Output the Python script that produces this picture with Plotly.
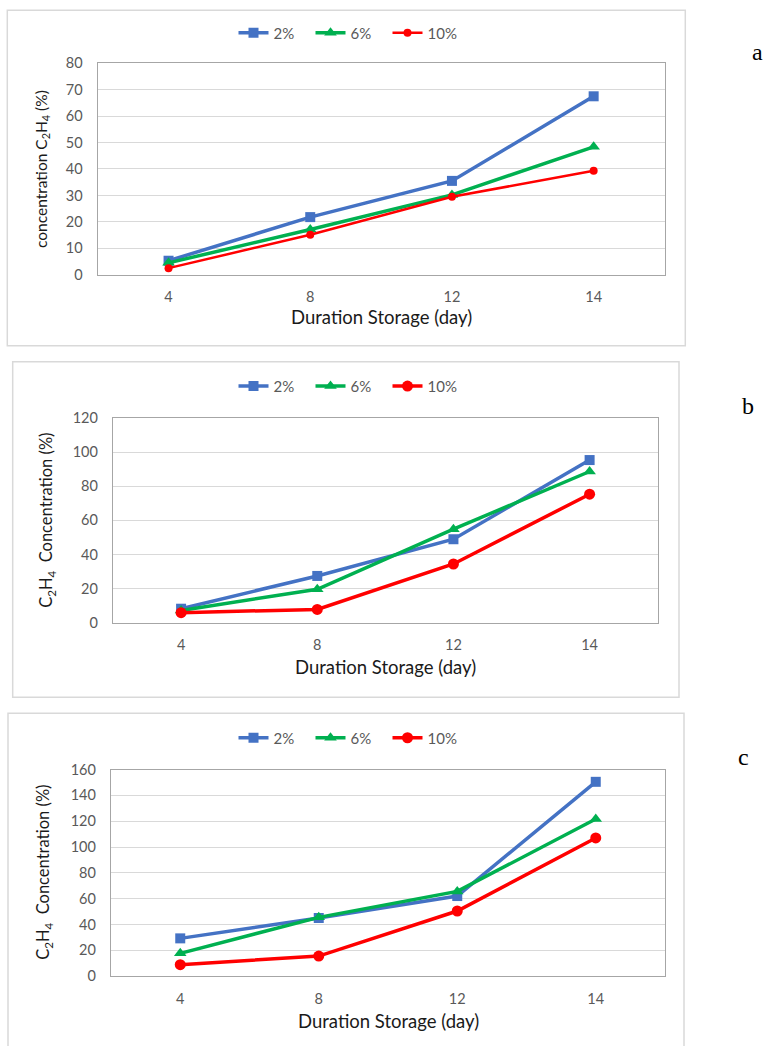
import plotly.graph_objects as go

W, H = 765, 1046

# ---------------- data ----------------
days = ["4", "8", "12", "14"]
series_names = ["2%", "6%", "10%"]

a_2 = [5.3, 21.8, 35.5, 67.5]
a_6 = [4.5, 17.1, 30.2, 48.4]
a_10 = [2.5, 15.1, 29.5, 39.3]

b_2 = [8.2, 27.4, 48.9, 95.3]
b_6 = [7.2, 19.6, 54.8, 88.6]
b_10 = [5.9, 7.8, 34.4, 75.3]

c_2 = [29.2, 45.0, 62.0, 150.5]
c_6 = [17.6, 45.5, 65.6, 121.7]
c_10 = [8.8, 15.5, 50.4, 107.0]

y_ranges = [[0, 80], [0, 120], [0, 160]]
y_dticks = [10, 20, 20]
y_titles = [
    "concentration C<sub>2</sub>H<sub>4</sub> (%)",
    "C<sub>2</sub>H<sub>4</sub>\u00a0 Concentration (%)",
    "C<sub>2</sub>H<sub>4</sub>\u00a0 Concentration (%)",
]
x_title = "Duration Storage (day)"
panel_labels = ["a", "b", "c"]

# ---------------- styles / layout geometry (pixels) ----------------
colors = ["#4472C4", "#00B050", "#FF0000"]
symbols = ["square", "triangle-up", "circle"]

# plot areas: (left, right, top, bottom)
plot_px = [(97.7, 664.5, 62.3, 274.0), (113.0, 657.7, 417.3, 622.3), (111.0, 665.0, 769.3, 976.0)]
# outer boxes
box_px = [(7.3, 685.3, 9.3, 345.0), (12.7, 679.0, 361.0, 697.0), (8.0, 684.0, 713.0, 1060.0)]
legend_y_px = [32.0, 385.7, 737.7]
xtitle_y_px = [316.0, 666.7, 1021.0]
ytitle_x_px = [42.0, 46.5, 44.0]
ytitle_sizes = [15.5, 16.5, 16.5]
label_px = [(757.0, 51.0), (748.0, 405.0), (743.0, 757.0)]

red_width = [2.5, 3.5, 3.5]
red_size = [8, 11, 11]

# the rendered page shows the figure offset by 8 px vertically and squeezed to 1030 px
Y_OFF, Y_SPAN = 8.0, 1030.0


def px_x(v):
    return v / W


def px_y(v):
    return 1 - (v - Y_OFF) / Y_SPAN


panels = [
    [a_2, a_6, a_10],
    [b_2, b_6, b_10],
    [c_2, c_6, c_10],
]

fig = go.Figure()
font_main = "Lato, 'Open Sans', sans-serif"

for p, vals in enumerate(panels):
    xa = "x" if p == 0 else f"x{p+1}"
    ya = "y" if p == 0 else f"y{p+1}"
    leg = "legend" if p == 0 else f"legend{p+1}"
    for s, name in enumerate(series_names):
        lw = 3.5 if s < 2 else red_width[p]
        ms = 10 if s == 0 else (11 if s == 1 else red_size[p])
        fig.add_trace(go.Scatter(
            x=days, y=vals[s], name=name, mode="lines+markers",
            xaxis=xa, yaxis=ya, legend=leg,
            line=dict(color=colors[s], width=lw),
            marker=dict(symbol=symbols[s], size=ms, color=colors[s], line=dict(width=0)),
            cliponaxis=False,
        ))

    l, r, t, b = plot_px[p]
    xkey = "xaxis" if p == 0 else f"xaxis{p+1}"
    ykey = "yaxis" if p == 0 else f"yaxis{p+1}"
    fig.update_layout({
        xkey: dict(
            domain=[px_x(l), px_x(r)], anchor=ya, type="category",
            range=[-0.5, 3.5], showgrid=False, showline=True, mirror=True,
            linecolor="#A6A6A6", linewidth=1.3, ticks="",
            tickfont=dict(family=font_main, size=14.5, color="#595959"),
            ticklabelstandoff=9, zeroline=False, fixedrange=True,
        ),
        ykey: dict(
            domain=[px_y(b), px_y(t)], anchor=xa,
            range=y_ranges[p], dtick=y_dticks[p], showgrid=True,
            gridcolor="#D9D9D9", gridwidth=1.3, showline=True, mirror=True,
            linecolor="#A6A6A6", linewidth=1.3, ticks="", zeroline=False,
            tickfont=dict(family=font_main, size=14.5, color="#595959"),
            ticklabelstandoff=11, fixedrange=True,
        ),
        leg: dict(
            orientation="h", x=px_x(349), xanchor="center",
            y=px_y(legend_y_px[p]), yanchor="middle",
            font=dict(family=font_main, size=15, color="#595959"),
            bgcolor="rgba(0,0,0,0)", itemclick=False, itemdoubleclick=False,
            tracegroupgap=0, entrywidth=32, entrywidthmode="pixels",
        ),
    })

    # outer panel box
    bl, br, bt, bb = box_px[p]
    fig.add_shape(type="rect", xref="paper", yref="paper",
                  x0=px_x(bl), x1=px_x(br), y0=px_y(bb), y1=px_y(bt),
                  line=dict(color="#D9D9D9", width=1.5), fillcolor="rgba(0,0,0,0)", layer="below")

    # x axis title
    fig.add_annotation(xref="paper", yref="paper", x=px_x((l + r) / 2), y=px_y(xtitle_y_px[p]),
                       text=x_title, showarrow=False, xanchor="center", yanchor="middle",
                       font=dict(family=font_main, size=18.5, color="#1a1a1a"))
    # y axis title
    fig.add_annotation(xref="paper", yref="paper", x=px_x(ytitle_x_px[p]), y=px_y((t + b) / 2),
                       text=y_titles[p], showarrow=False, textangle=-90,
                       xanchor="center", yanchor="middle",
                       font=dict(family=font_main, size=ytitle_sizes[p], color="#1a1a1a"))
    # panel label
    lx, ly = label_px[p]
    fig.add_annotation(xref="paper", yref="paper", x=px_x(lx), y=px_y(ly),
                       text=panel_labels[p], showarrow=False, xanchor="center", yanchor="middle",
                       font=dict(family="'Liberation Serif', 'DejaVu Serif', serif", size=24, color="#000000"))

fig.update_layout(
    width=W, height=H, margin=dict(l=0, r=0, t=0, b=0),
    paper_bgcolor="white", plot_bgcolor="white",
    showlegend=True,
)

fig.write_html(
    "out.html",
    config={"displayModeBar": False},
    post_script="document.body.style.margin='0';document.body.style.overflow='hidden';",
)
